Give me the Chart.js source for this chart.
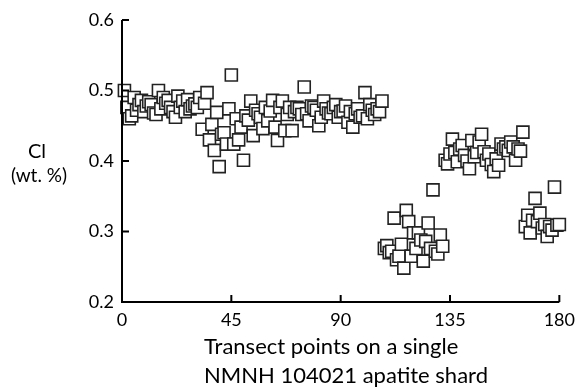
<!DOCTYPE html>
<html>
<head>
<meta charset="utf-8">
<script src="https://cdn.jsdelivr.net/npm/chart.js@4.4.0/dist/chart.umd.min.js"></script>
<style>
    html, body { margin: 0; padding: 0; background: #fff; }
    #wrap { width: 582px; height: 390px; position: relative; }
</style>
</head>
<body>
<div id="wrap"><canvas id="clChart"></canvas></div>
<script>
// Cl content for transect points 1..180
const clValues = [
    0.500, 0.476, 0.460, 0.464, 0.490, 0.472, 0.480, 0.486, 0.470, 0.478,
    0.484, 0.480, 0.468, 0.466, 0.500, 0.474, 0.490, 0.482, 0.486, 0.476,
    0.470, 0.462, 0.492, 0.476, 0.485, 0.470, 0.487, 0.474, 0.478, 0.481,
    0.476, 0.490, 0.445, 0.482, 0.497, 0.430, 0.452, 0.415, 0.469, 0.392,
    0.438, 0.440, 0.424, 0.474, 0.522, 0.424, 0.460, 0.430, 0.448, 0.401,
    0.464, 0.458, 0.485, 0.436, 0.472, 0.467, 0.462, 0.446, 0.476, 0.457,
    0.471, 0.486, 0.448, 0.429, 0.476, 0.485, 0.443, 0.466, 0.476, 0.443,
    0.470, 0.476, 0.474, 0.466, 0.505, 0.467, 0.457, 0.478, 0.476, 0.472,
    0.450, 0.462, 0.485, 0.474, 0.468, 0.467, 0.476, 0.480, 0.462, 0.470,
    0.471, 0.478, 0.455, 0.470, 0.448, 0.467, 0.474, 0.462, 0.464, 0.497,
    0.460, 0.480, 0.472, 0.466, 0.474, 0.470, 0.485,
    0.276, 0.280, 0.270, 0.272, 0.319, 0.260, 0.265, 0.282, 0.248, 0.330,
    0.314, 0.265, 0.298, 0.276, 0.298, 0.288, 0.258, 0.286, 0.312, 0.276,
    0.359, 0.272, 0.268, 0.295, 0.279,
    0.401, 0.396, 0.410, 0.431, 0.412, 0.399, 0.417, 0.422, 0.408, 0.400,
    0.389, 0.429, 0.406, 0.412, 0.427, 0.438, 0.413, 0.401, 0.410, 0.395,
    0.385, 0.403, 0.394, 0.424, 0.417, 0.420, 0.415, 0.427, 0.420, 0.401,
    0.417, 0.414, 0.441,
    0.307, 0.323, 0.298, 0.316, 0.347, 0.314, 0.326, 0.305, 0.310, 0.293,
    0.307, 0.302, 0.363, 0.309, 0.310
];
const xTicks = [0, 45, 90, 135, 180];
const yTicks = [0.2, 0.3, 0.4, 0.5, 0.6];
const xTitle = ['Transect points on a single', 'NMNH 104021 apatite shard'];
const yTitle = ['Cl', '(wt. %)'];

const points = clValues.map((v, i) => ({ x: i + 1, y: v }));

// axis lines, inward ticks and the titles
const axisPlugin = {
    id: 'axisPlugin',
    afterDraw(chart) {
        const ctx = chart.ctx;
        const xs = chart.scales.x;
        const ys = chart.scales.y;
        const left = xs.getPixelForValue(0);
        const right = xs.getPixelForValue(180);
        const top = ys.getPixelForValue(0.6);
        const bottom = ys.getPixelForValue(0.2);

        ctx.save();
        ctx.strokeStyle = '#000';
        ctx.lineWidth = 2;
        ctx.beginPath();
        ctx.moveTo(left, top);
        ctx.lineTo(left, bottom);
        ctx.lineTo(right, bottom);
        yTicks.forEach(v => {
            const y = ys.getPixelForValue(v);
            ctx.moveTo(left, y);
            ctx.lineTo(left + 7, y);
        });
        xTicks.forEach(v => {
            const x = xs.getPixelForValue(v);
            ctx.moveTo(x, bottom);
            ctx.lineTo(x, bottom - 7);
        });
        ctx.stroke();

        ctx.fillStyle = '#000';
        ctx.textBaseline = 'alphabetic';
        ctx.textAlign = 'left';
        ctx.font = '22px Lato';
        ctx.fillText(xTitle[0], 204, 354);
        ctx.fillText(xTitle[1], 204, 383);

        ctx.textAlign = 'center';
        ctx.font = '20px Lato';
        ctx.fillText(yTitle[0], 37, 158);
        ctx.font = '19px Lato';
        ctx.fillText(yTitle[1], 39, 182);
        ctx.restore();
    }
};

const ctx = document.getElementById('clChart').getContext('2d');
new Chart(ctx, {
    type: 'scatter',
    data: {
        datasets: [{
            data: points,
            pointStyle: 'rect',
            pointRadius: 8.5,
            pointHoverRadius: 8.5,
            backgroundColor: '#fff',
            borderColor: '#222',
            borderWidth: 1.6,
            clip: false
        }]
    },
    options: {
        responsive: true,
        maintainAspectRatio: false,
        animation: false,
        layout: { padding: { top: 20, right: 16, bottom: 0, left: 0 } },
        plugins: {
            legend: { display: false },
            tooltip: { enabled: false }
        },
        scales: {
            x: {
                type: 'linear',
                min: 0,
                max: 180,
                afterBuildTicks: s => { s.ticks = xTicks.map(v => ({ value: v })); },
                afterFit: s => { s.height = 88; },
                grid: { display: false, drawTicks: false },
                border: { display: false },
                ticks: {
                    padding: 7,
                    color: '#000',
                    font: { family: 'Lato', size: 18 },
                    maxRotation: 0
                }
            },
            y: {
                min: 0.2,
                max: 0.6,
                afterBuildTicks: s => { s.ticks = yTicks.map(v => ({ value: v })); },
                afterFit: s => { s.width = 122; },
                grid: { display: false, drawTicks: false },
                border: { display: false },
                ticks: {
                    padding: 8,
                    color: '#000',
                    font: { family: 'Lato', size: 18 },
                    callback: v => v.toFixed(1)
                }
            }
        }
    },
    plugins: [axisPlugin]
});
</script>
</body>
</html>
